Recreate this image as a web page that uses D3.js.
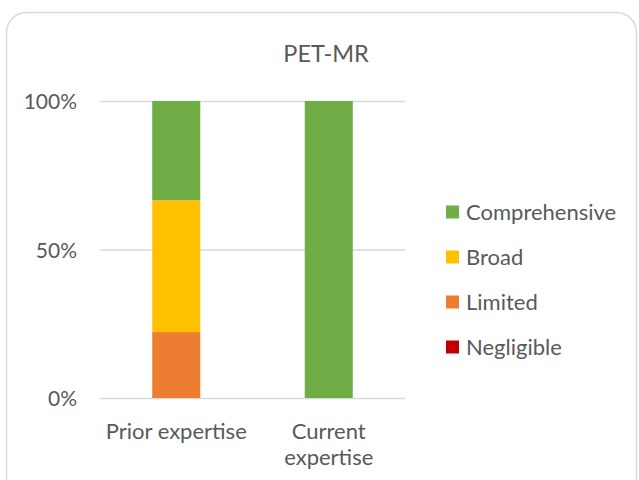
<!DOCTYPE html>
<meta charset="utf-8">
<head>
<script src="https://d3js.org/d3.v7.min.js"></script>
<style>
  body { margin: 0; background: #fff; }
  text { font-family: Lato, "Open Sans", sans-serif; fill: #595959; }
</style>
</head>
<body>
<svg id="chart" width="639" height="480"></svg>
<script>
// data (shares of respondents)
var categories = ["Prior expertise", "Current expertise"];
var levels = ["Negligible", "Limited", "Broad", "Comprehensive"];
var negligible = [0, 0];
var limited = [22.2, 0];
var broad = [44.4, 0];
var comprehensive = [33.4, 100];
var colors = ["#c00000", "#ed7d31", "#ffc000", "#70ad47"];
var yTicks = [0, 50, 100];

var svg = d3.select("#chart");

// outer frame
svg.append("rect")
  .attr("x", 6.5).attr("y", 12.5)
  .attr("width", 630).attr("height", 490)
  .attr("rx", 20)
  .attr("fill", "#fff")
  .attr("stroke", "#d9d9d9")
  .attr("stroke-width", 1.5);

svg.append("text")
  .attr("x", 326).attr("y", 62)
  .attr("text-anchor", "middle")
  .style("font-size", "23.5px")
  .text("PET-MR");

var x = d3.scaleBand()
  .domain(categories)
  .range([100, 405])
  .paddingInner(0.685)
  .paddingOuter(0.3425);

var y = d3.scaleLinear().domain([0, 100]).range([398, 101]);

// gridlines
svg.append("g").selectAll("line")
  .data(yTicks)
  .enter().append("line")
    .attr("x1", 100).attr("x2", 405)
    .attr("y1", function(d) { return y(d) + 0.5; })
    .attr("y2", function(d) { return y(d) + 0.5; })
    .attr("stroke", "#d9d9d9")
    .attr("stroke-width", 1.5);

svg.append("g").selectAll("text")
  .data(yTicks)
  .enter().append("text")
    .attr("x", 77)
    .attr("y", function(d) { return y(d) + 8; })
    .attr("text-anchor", "end")
    .style("font-size", "21px")
    .text(function(d) { return d + "%"; });

// stacked bars
var table = categories.map(function(c, i) {
  return { cat: c, Negligible: negligible[i], Limited: limited[i], Broad: broad[i], Comprehensive: comprehensive[i] };
});
var series = d3.stack().keys(levels)(table);

svg.append("g").selectAll("g")
  .data(series)
  .enter().append("g")
    .attr("fill", function(d, i) { return colors[i]; })
  .selectAll("rect")
  .data(function(d) { return d; })
  .enter().append("rect")
    .attr("x", function(d) { return x(d.data.cat); })
    .attr("width", x.bandwidth())
    .attr("y", function(d) { return y(d[1]); })
    .attr("height", function(d) { return y(d[0]) - y(d[1]); });

// category labels
var xLabels = [["Prior expertise"], ["Current", "expertise"]];
svg.append("g").selectAll("text")
  .data(categories)
  .enter().append("text")
    .attr("x", function(d) { return x(d) + x.bandwidth() / 2; })
    .attr("y", 439)
    .attr("text-anchor", "middle")
    .style("font-size", "22px")
    .each(function(d, i) {
      var t = d3.select(this);
      xLabels[i].forEach(function(line, j) {
        t.append("tspan").attr("x", x(d) + x.bandwidth() / 2).attr("dy", j ? 26 : 0).text(line);
      });
    });

// legend, top to bottom
var legendOrder = levels.slice().reverse();
var legend = svg.append("g").selectAll("g")
  .data(legendOrder)
  .enter().append("g")
    .attr("transform", function(d, i) { return "translate(446," + (212 + i * 45) + ")"; });
legend.append("rect")
  .attr("y", -6.5)
  .attr("width", 13).attr("height", 13)
  .attr("fill", function(d) { return colors[levels.indexOf(d)]; });
legend.append("text")
  .attr("x", 20).attr("y", 8)
  .style("font-size", "22px")
  .text(function(d) { return d; });
</script>
</body>
